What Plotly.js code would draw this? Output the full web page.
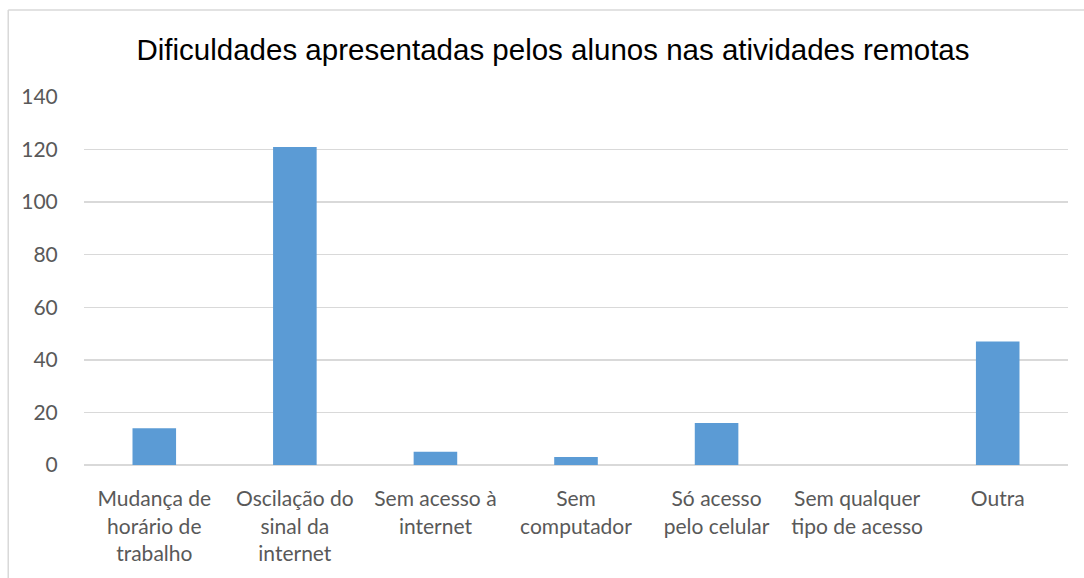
<!DOCTYPE html>
<html>
<head>
<meta charset="utf-8">
<script src="https://cdn.plot.ly/plotly-3.0.1.min.js"></script>
<style>
  html, body { margin: 0; padding: 0; background: #ffffff; }
  #chart { width: 1084px; height: 578px; }
</style>
</head>
<body>
<div id="chart"></div>
<script>
const categories = [
  "Mudança de<br>horário de<br>trabalho",
  "Oscilação do<br>sinal da<br>internet",
  "Sem acesso à<br>internet",
  "Sem<br>computador",
  "Só acesso<br>pelo celular",
  "Sem qualquer<br>tipo de acesso",
  "Outra"
];
const values = [14, 121, 5, 3, 16, 0, 47];
const yTicks = [0, 20, 40, 60, 80, 100, 120, 140];
const chartTitle = "Dificuldades apresentadas pelos alunos nas atividades remotas";

const trace = {
  type: "bar",
  x: categories,
  y: values,
  marker: { color: "#5b9bd5" },
  hoverinfo: "x+y"
};

const layout = {
  width: 1084,
  height: 578,
  paper_bgcolor: "#ffffff",
  plot_bgcolor: "#ffffff",
  margin: { l: 84, r: 16, t: 97, b: 113 },
  bargap: 0.69,
  showlegend: false,
  title: {
    text: chartTitle,
    font: { family: "Liberation Sans, Arial, sans-serif", size: 29.5, color: "#000000" },
    x: 553 / 1084,
    xanchor: "center",
    xref: "container",
    y: 1 - 50 / 578,
    yanchor: "middle",
    yref: "container"
  },
  xaxis: {
    type: "category",
    tickfont: { family: "Lato, 'Open Sans', sans-serif", size: 21, color: "#595959" },
    ticks: "outside",
    ticklen: 15,
    tickcolor: "rgba(0,0,0,0)",
    showline: false,
    showgrid: false,
    fixedrange: true
  },
  yaxis: {
    range: [0, 140],
    tickvals: yTicks,
    ticktext: yTicks.map(String),
    tickfont: { family: "Lato, 'Open Sans', sans-serif", size: 21, color: "#595959" },
    ticks: "outside",
    ticklen: 21,
    tickcolor: "rgba(0,0,0,0)",
    showgrid: true,
    gridcolor: "#d9d9d9",
    gridwidth: 1.5,
    zeroline: true,
    zerolinecolor: "#d9d9d9",
    zerolinewidth: 2,
    showline: false,
    fixedrange: true
  },
  shapes: [
    { type: "line", xref: "paper", yref: "paper", x0: -77/1000, x1: 1.2, y0: 1 + 87/368, y1: 1 + 87/368,
      line: { color: "#d9d9d9", width: 1.5 } },
    { type: "line", xref: "paper", yref: "paper", x0: -77/1000, x1: -77/1000, y0: 1 + 87/368, y1: -0.5,
      line: { color: "#d9d9d9", width: 1.5 } }
  ]
};

Plotly.newPlot("chart", [trace], layout, { displayModeBar: false, staticPlot: true });
</script>
</body>
</html>
